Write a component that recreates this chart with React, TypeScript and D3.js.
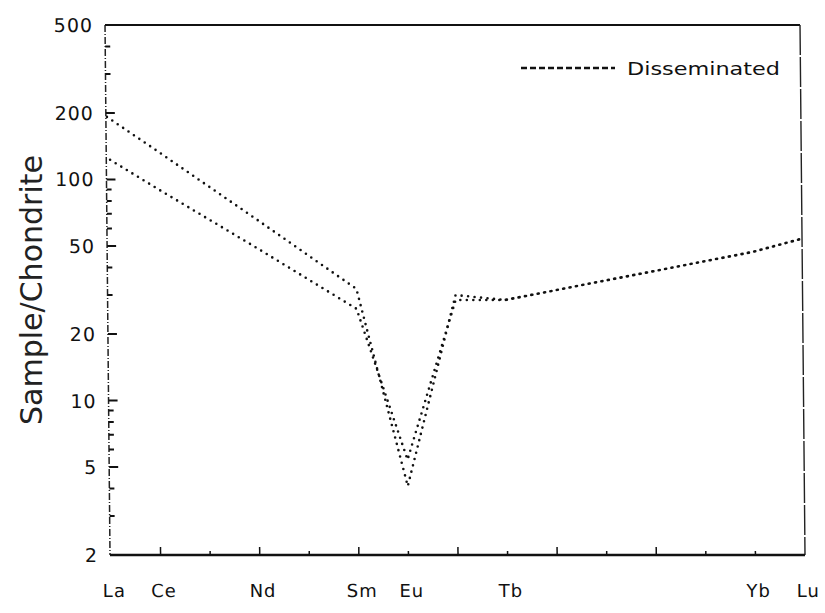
import React, { useEffect, useRef } from 'react';
import * as d3 from 'd3';

// REE order on the x axis
const elements = ["La", "Ce", "Pr", "Nd", "Pm", "Sm", "Eu", "Gd", "Tb", "Dy", "Ho", "Er", "Tm", "Yb", "Lu"];
const labeledElements = ["La", "Ce", "Nd", "Sm", "Eu", "Tb", "Yb", "Lu"];
const plottedElements = ["La", "Ce", "Nd", "Sm", "Eu", "Gd", "Tb", "Yb", "Lu"];
const sampleUpper = [192, 135, 66, 32, 4.1, 30, 28.5, 47, 54];
const sampleLower = [125, 91, 49, 26, 5.4, 28.5, 28.5, 47, 54];
const yTickLabels = [2, 5, 10, 20, 50, 100, 200, 500];
const yMinorTicks = [3, 4, 6, 7, 8, 9, 30, 40, 60, 70, 80, 90, 300, 400];
const legendLabel = "Disseminated";
const yTitle = "Sample/Chondrite";

const App = () => {
  const svgRef = useRef<SVGSVGElement>(null);

  useEffect(() => {
    const w = 825;
    const h = 613;
    const left = 111, right = 805, top = 25, bottom = 555;
    const font = "'DejaVu Sans', sans-serif";

    const svg = d3.select(svgRef.current).attr("width", w).attr("height", h);
    svg.selectAll("*").remove();

    const xScale = d3.scaleLinear().domain([0, elements.length - 1]).range([left, right]);
    const yScale = d3.scaleLog().domain([2, 500]).range([bottom, top]);

    // the scanned plot leans a little: slight shear
    const k = 0.0094;
    const g = svg.append("g").attr("transform", `matrix(1,0,${k},1,${-k * bottom},0)`);

    // frame
    g.append("line").attr("x1", left - 1).attr("x2", right).attr("y1", top).attr("y2", top)
      .attr("stroke", "#111").attr("stroke-width", 2);
    g.append("line").attr("x1", right).attr("x2", right).attr("y1", top).attr("y2", bottom)
      .attr("stroke", "#222").attr("stroke-width", 1.4).attr("stroke-dasharray", "30 2");
    g.append("line").attr("x1", left - 1).attr("x2", right).attr("y1", bottom).attr("y2", bottom)
      .attr("stroke", "#111").attr("stroke-width", 2.4);
    g.append("line").attr("x1", left - 1).attr("x2", left - 1).attr("y1", top).attr("y2", bottom)
      .attr("stroke", "#222").attr("stroke-width", 1.5).attr("stroke-dasharray", "7 2 1 2");

    // y ticks
    g.selectAll(".ymaj").data(yTickLabels).enter().append("line")
      .attr("x1", left - 1).attr("x2", left + 8)
      .attr("y1", (d) => yScale(d)).attr("y2", (d) => yScale(d))
      .attr("stroke", "#111").attr("stroke-width", 2);
    g.selectAll(".ymin").data(yMinorTicks).enter().append("line")
      .attr("x1", left - 1).attr("x2", left + 4)
      .attr("y1", (d) => yScale(d)).attr("y2", (d) => yScale(d))
      .attr("stroke", "#111").attr("stroke-width", 2);
    g.selectAll(".ylab").data(yTickLabels).enter().append("text")
      .text((d) => d)
      .attr("x", 98).attr("y", (d) => yScale(d) + 7)
      .attr("text-anchor", "end")
      .attr("font-family", font).attr("font-size", 19).attr("letter-spacing", 1)
      .attr("fill", "#111");

    // x ticks, alternating long / short
    g.selectAll(".xt").data(elements.slice(1, -1)).enter().append("line")
      .attr("x1", (d) => xScale(elements.indexOf(d))).attr("x2", (d) => xScale(elements.indexOf(d)))
      .attr("y1", bottom)
      .attr("y2", (d) => {
        const i = elements.indexOf(d);
        return bottom - (i % 2 === 1 && i < 13 ? 8 : 4);
      })
      .attr("stroke", "#111").attr("stroke-width", 1.5);
    g.selectAll(".xlab").data(labeledElements).enter().append("text")
      .text((d) => d)
      .attr("x", (d) => xScale(elements.indexOf(d)) + 3)
      .attr("y", 597)
      .attr("text-anchor", "middle")
      .attr("font-family", font).attr("font-size", 18).attr("letter-spacing", 1)
      .attr("fill", "#111");

    // sample curves
    const line = d3.line<number>()
      .x((d, i) => xScale(elements.indexOf(plottedElements[i])))
      .y((d) => yScale(d));
    [sampleUpper, sampleLower].forEach((series, si) => {
      g.append("path").datum(series)
        .attr("d", line)
        .attr("fill", "none")
        .attr("stroke", "#111")
        .attr("stroke-width", 2.6)
        .attr("stroke-linecap", "round")
        .attr("stroke-dasharray", "0 6.5")
        .attr("stroke-dashoffset", si * 3.2);
    });

    // legend
    svg.append("line").attr("x1", 521).attr("x2", 615).attr("y1", 68).attr("y2", 68)
      .attr("stroke", "#111").attr("stroke-width", 2.5).attr("stroke-dasharray", "6 3");
    svg.append("text").text(legendLabel)
      .attr("x", 627).attr("y", 75)
      .attr("textLength", 153).attr("lengthAdjust", "spacingAndGlyphs")
      .attr("font-family", font).attr("font-size", 17).attr("fill", "#111");

    // y axis title
    svg.append("text").text(yTitle)
      .attr("transform", "translate(42,290) rotate(-90)")
      .attr("text-anchor", "middle")
      .attr("textLength", 270).attr("lengthAdjust", "spacingAndGlyphs")
      .attr("font-family", font).attr("font-size", 30).attr("fill", "#222");
  }, []);

  return (
    <div style={{ position: "absolute", left: 0, top: 0 }}>
      <svg ref={svgRef} style={{ display: "block", background: "#fff" }}></svg>
    </div>
  );
};

export default App;
